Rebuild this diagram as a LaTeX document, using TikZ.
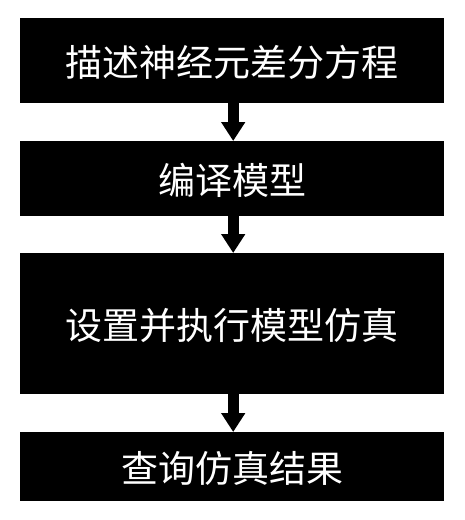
\documentclass[tikz,border=0pt]{standalone}
\usepackage{fontspec}
\newfontfamily\cjk{Noto Sans CJK SC}
\usetikzlibrary{arrows.meta}
\begin{document}
\begin{tikzpicture}[x=1pt,y=-1pt,
  box/.style={fill=black,draw=none,text=white,font=\cjk\fontsize{37}{42}\selectfont,inner sep=0pt,anchor=north west,text depth=0pt},
  flow/.style={line width=11pt,draw=black,-{Triangle[width=23pt,length=19pt]}}]
\fill[white] (0,0) rectangle (464,520);
\useasboundingbox (0,0) rectangle (464,520);
\node[box,minimum width=424pt,minimum height=85pt] (a) at (20,18) {描述神经元差分方程};
\node[box,minimum width=424pt,minimum height=75pt] (b) at (20,141) {编译模型};
\node[box,minimum width=424pt,minimum height=141pt] (c) at (20,253) {设置并执行模型仿真};
\node[box,minimum width=424pt,minimum height=69pt] (d) at (20,432) {查询仿真结果};
\draw[flow] ([xshift=1pt]a.south) -- ([xshift=1pt]b.north);
\draw[flow] ([xshift=1pt]b.south) -- ([xshift=1pt]c.north);
\draw[flow] ([xshift=1pt]c.south) -- ([xshift=1pt]d.north);
\end{tikzpicture}
\end{document}
